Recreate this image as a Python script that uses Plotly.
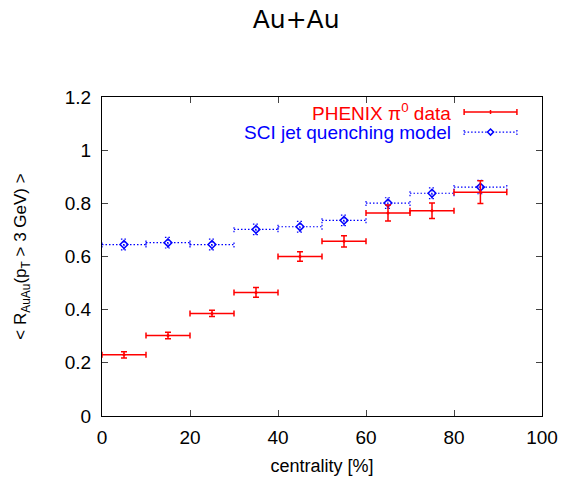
import plotly.graph_objects as go

# ---- data ----
centrality = [5, 15, 25, 35, 45, 55, 65, 75, 86]
bin_lo = [0, 10, 20, 30, 40, 50, 60, 70, 80]
bin_hi = [10, 20, 30, 40, 50, 60, 70, 80, 92]
phenix = [0.230, 0.303, 0.386, 0.465, 0.600, 0.657, 0.764, 0.772, 0.842]
phenix_err = [0.012, 0.012, 0.012, 0.018, 0.018, 0.021, 0.030, 0.029, 0.043]
sci = [0.645, 0.652, 0.645, 0.702, 0.712, 0.736, 0.801, 0.838, 0.861]
sci_err = [0.020, 0.020, 0.020, 0.020, 0.020, 0.020, 0.020, 0.020, 0.025]
x_ticks = [0, 20, 40, 60, 80, 100]
y_ticks = [0, 0.2, 0.4, 0.6, 0.8, 1.0, 1.2]
y_ticklabels = ["0", "0.2", "0.4", "0.6", "0.8", "1", "1.2"]

FONT = "Liberation Sans, Arial, sans-serif"
RED = "#ff0000"
BLUE = "#0000ff"
DOT = "1.5px,2px"

fig = go.Figure()

# ---- SCI model: dotted error crosses built from the data ----
capx = 0.7   # horizontal half-width of caps (x units)
capy = 0.011  # vertical half-height of caps (y units)
sx, sy = [], []
for xc, lo, hi, y, e in zip(centrality, bin_lo, bin_hi, sci, sci_err):
    sx += [lo, hi, None]; sy += [y, y, None]
    sx += [lo, lo, None]; sy += [y - capy, y + capy, None]
    sx += [hi, hi, None]; sy += [y - capy, y + capy, None]
    sx += [xc, xc, None]; sy += [y - e, y + e, None]
    sx += [xc - capx, xc + capx, None]; sy += [y - e, y - e, None]
    sx += [xc - capx, xc + capx, None]; sy += [y + e, y + e, None]
fig.add_trace(go.Scatter(x=sx, y=sy, mode="lines",
                         line=dict(color=BLUE, width=1.2, dash=DOT),
                         hoverinfo="skip", showlegend=False))
fig.add_trace(go.Scatter(x=centrality, y=sci, mode="markers",
                         marker=dict(symbol="diamond-open", size=6, color=BLUE,
                                     line=dict(width=1.5, color=BLUE)),
                         showlegend=False))

# ---- PHENIX data ----
fig.add_trace(go.Scatter(
    x=centrality, y=phenix, mode="markers",
    marker=dict(symbol="circle", size=3, color=RED),
    error_x=dict(type="data", symmetric=False,
                 array=[h - c for h, c in zip(bin_hi, centrality)],
                 arrayminus=[c - l for c, l in zip(centrality, bin_lo)],
                 color=RED, thickness=1.5, width=3),
    error_y=dict(type="data", array=phenix_err, color=RED, thickness=1.5, width=3),
    showlegend=False))

# ---- custom legend (text right-aligned, sample on the right) ----
shapes = []
lx0, lx1 = 0.823, 0.943
ly_red, ly_blue = 0.953, 0.890
shapes.append(dict(type="line", xref="paper", yref="paper", x0=lx0, x1=lx1,
                   y0=ly_red, y1=ly_red, line=dict(color=RED, width=1.5)))
for xx in (lx0, lx1):
    shapes.append(dict(type="line", xref="paper", yref="paper", xsizemode="pixel",
                       ysizemode="pixel", xanchor=xx, yanchor=ly_red, x0=0, x1=0,
                       y0=-3, y1=3, line=dict(color=RED, width=1.5)))
shapes.append(dict(type="line", xref="paper", yref="paper", xsizemode="pixel",
                   ysizemode="pixel", xanchor=(lx0 + lx1) / 2, yanchor=ly_red,
                   x0=0, x1=0, y0=-2, y1=2, line=dict(color=RED, width=1.5)))
shapes.append(dict(type="line", xref="paper", yref="paper", x0=lx0, x1=lx1,
                   y0=ly_blue, y1=ly_blue, line=dict(color=BLUE, width=1.2, dash=DOT)))
for xx in (lx0, lx1):
    shapes.append(dict(type="line", xref="paper", yref="paper", xsizemode="pixel",
                       ysizemode="pixel", xanchor=xx, yanchor=ly_blue, x0=0, x1=0,
                       y0=-3, y1=3, line=dict(color=BLUE, width=1.2, dash=DOT)))
shapes.append(dict(type="path", xref="paper", yref="paper", xsizemode="pixel",
                   ysizemode="pixel", xanchor=(lx0 + lx1) / 2, yanchor=ly_blue,
                   path="M -3 0 L 0 3 L 3 0 L 0 -3 Z",
                   line=dict(color=BLUE, width=1.5), fillcolor="white"))

annotations = [
    dict(text="PHENIX π<sup>0</sup> data", xref="paper", yref="paper",
         x=0.797, y=ly_red, xanchor="right", yanchor="middle", showarrow=False,
         font=dict(family=FONT, size=19, color=RED)),
    dict(text="SCI jet quenching model", xref="paper", yref="paper",
         x=0.797, y=ly_blue, xanchor="right", yanchor="middle", showarrow=False,
         font=dict(family=FONT, size=19, color=BLUE)),
]

fig.update_layout(
    width=563, height=478,
    margin=dict(l=102, r=21, t=97, b=62, autoexpand=False),
    paper_bgcolor="white", plot_bgcolor="white",
    font=dict(family=FONT, size=18, color="black"),
    title=dict(text="Au+Au", x=0.526, xref="container", xanchor="center",
               y=0.96, yref="container", yanchor="middle",
               font=dict(family="DejaVu Sans, sans-serif", size=25)),
    shapes=shapes, annotations=annotations,
    showlegend=False,
)
fig.update_xaxes(range=[0, 100], tickvals=x_ticks, ticks="inside", ticklen=6,
                 mirror="ticks", showline=True, linecolor="black", linewidth=1,
                 showgrid=False, zeroline=False, tickfont=dict(size=19),
                 ticklabelstandoff=4, automargin=False,
                 title=dict(text="centrality [%]", font=dict(size=18), standoff=12))
fig.update_yaxes(range=[0, 1.2], tickvals=y_ticks, ticktext=y_ticklabels,
                 ticks="inside", ticklen=6, mirror="ticks", showline=True,
                 linecolor="black", linewidth=1, showgrid=False, zeroline=False,
                 tickfont=dict(size=19), ticklabelstandoff=6, automargin=False,
                 title=dict(text="< R<sub>AuAu</sub>(p<sub>T</sub> > 3 GeV) >",
                            font=dict(size=17), standoff=33))

fig.write_html("out.html", config={"displayModeBar": False},
               post_script="document.body.style.margin='0';")
